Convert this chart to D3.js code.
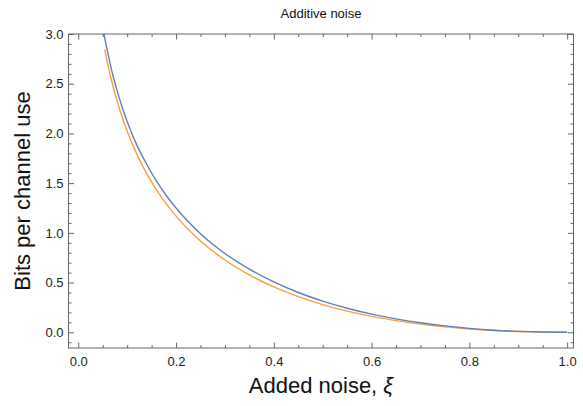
<!DOCTYPE html>
<html>
<head>
<meta charset="utf-8">
<script src="https://cdn.jsdelivr.net/npm/d3@7"></script>
<style>
  body { margin: 0; background: #fff; }
  text { font-family: "Liberation Sans", Arial, sans-serif; }
</style>
</head>
<body>
<div id="chart"></div>
<script>
// values (blue curve starts above the frame and is clipped)
var blueX = [0.05, 0.054, 0.06, 0.07, 0.08, 0.09, 0.1, 0.12, 0.14, 0.16, 0.18, 0.2, 0.25, 0.3, 0.35, 0.4, 0.45, 0.5, 0.55, 0.6, 0.65, 0.7, 0.75, 0.8, 0.85, 0.9, 0.95, 1.0];
var blueY = [3.07, 2.96, 2.82, 2.60, 2.42, 2.26, 2.12, 1.88, 1.69, 1.52, 1.376, 1.25, 0.992, 0.793, 0.635, 0.506, 0.40, 0.314, 0.242, 0.183, 0.135, 0.096, 0.064, 0.039, 0.021, 0.009, 0.0024, 0.0];
var orangeX = [0.054, 0.06, 0.07, 0.08, 0.09, 0.1, 0.12, 0.14, 0.16, 0.18, 0.2, 0.25, 0.3, 0.35, 0.4, 0.45, 0.5, 0.55, 0.6, 0.65, 0.7, 0.75, 0.8, 0.85, 0.9, 0.95, 1.0];
var orangeY = [2.846, 2.703, 2.495, 2.317, 2.161, 2.024, 1.789, 1.596, 1.432, 1.291, 1.168, 0.918, 0.727, 0.577, 0.456, 0.359, 0.279, 0.213, 0.160, 0.117, 0.082, 0.054, 0.033, 0.018, 0.008, 0.002, 0.0];

var xTicks = [0.0, 0.2, 0.4, 0.6, 0.8, 1.0];
var yTicks = [0.0, 0.5, 1.0, 1.5, 2.0, 2.5, 3.0];

var width = 583, height = 406;
var plotLeft = 68.5, plotRight = 573.5, plotTop = 34, plotBottom = 348;

var svg = d3.select("#chart").append("svg")
    .attr("width", width)
    .attr("height", height);

var x = d3.scaleLinear().domain([-0.02, 1.013]).range([plotLeft, plotRight]);
var y = d3.scaleLinear().domain([-0.158, 3.0]).range([plotBottom, plotTop]);

svg.append("clipPath").attr("id", "clip")
  .append("rect")
    .attr("x", plotLeft).attr("y", plotTop)
    .attr("width", plotRight - plotLeft).attr("height", plotBottom - plotTop);

// curves
var line = d3.line()
    .x(function(d) { return x(d[0]); })
    .y(function(d) { return y(d[1]); })
    .curve(d3.curveMonotoneX);

var orange = d3.zip(orangeX, orangeY);
var blue = d3.zip(blueX, blueY);

svg.append("path")
    .datum(orange)
    .attr("clip-path", "url(#clip)")
    .attr("fill", "none")
    .attr("stroke", "#f4a23f")
    .attr("stroke-width", 1.4)
    .attr("d", line);

svg.append("path")
    .datum(blue)
    .attr("clip-path", "url(#clip)")
    .attr("fill", "none")
    .attr("stroke", "#5e81b5")
    .attr("stroke-width", 1.4)
    .attr("d", line);

// frame
var frameColor = "#666";
var xMinor = d3.range(0, 1.0001, 0.05).filter(function(v) { return Math.abs(v * 5 - Math.round(v * 5)) > 1e-6; });
var yMinor = d3.range(-0.1, 3.0001, 0.1).filter(function(v) { return Math.abs(v * 2 - Math.round(v * 2)) > 1e-6; });

function addAxis(axis, transform) {
  var g = svg.append("g").attr("transform", transform).call(axis);
  g.select(".domain").remove();
  g.selectAll(".tick line").attr("stroke", frameColor);
  g.selectAll(".tick text").attr("fill", "#222").style("font-size", "13px");
  return g;
}

// bottom
addAxis(d3.axisTop(x).tickValues(xMinor).tickSize(3).tickFormat(""), "translate(0," + plotBottom + ")");
var xb = addAxis(d3.axisTop(x).tickValues(xTicks).tickSize(5.5).tickFormat(d3.format(".1f")), "translate(0," + plotBottom + ")");
xb.selectAll(".tick text").attr("y", 9).attr("dy", "0.71em");
// top
addAxis(d3.axisBottom(x).tickValues(xMinor).tickSize(3).tickFormat(""), "translate(0," + plotTop + ")");
addAxis(d3.axisBottom(x).tickValues(xTicks).tickSize(5.5).tickFormat(""), "translate(0," + plotTop + ")");
// left
addAxis(d3.axisRight(y).tickValues(yMinor).tickSize(3).tickFormat(""), "translate(" + plotLeft + ",0)");
var yl = addAxis(d3.axisRight(y).tickValues(yTicks).tickSize(5.5).tickFormat(d3.format(".1f")), "translate(" + plotLeft + ",0)");
yl.selectAll(".tick text").attr("x", -5).attr("text-anchor", "end");
// right
addAxis(d3.axisLeft(y).tickValues(yMinor).tickSize(3).tickFormat(""), "translate(" + plotRight + ",0)");
addAxis(d3.axisLeft(y).tickValues(yTicks).tickSize(5.5).tickFormat(""), "translate(" + plotRight + ",0)");

svg.append("rect")
    .attr("x", plotLeft).attr("y", plotTop)
    .attr("width", plotRight - plotLeft).attr("height", plotBottom - plotTop)
    .attr("fill", "none")
    .attr("stroke", frameColor)
    .attr("stroke-width", 1);

// title and labels
svg.append("text")
    .attr("x", (plotLeft + plotRight) / 2).attr("y", 18)
    .attr("text-anchor", "middle")
    .style("font-size", "13px")
    .attr("fill", "#111")
    .text("Additive noise");

var xl = svg.append("text")
    .attr("x", (plotLeft + plotRight) / 2).attr("y", 393)
    .attr("text-anchor", "middle")
    .style("font-size", "22px")
    .attr("fill", "#111");
xl.append("tspan").text("Added noise, ");
xl.append("tspan").style("font-style", "italic").text("ξ");

svg.append("text")
    .attr("transform", "translate(30," + ((plotTop + plotBottom) / 2) + ") rotate(-90)")
    .attr("text-anchor", "middle")
    .style("font-size", "22px")
    .attr("fill", "#111")
    .text("Bits per channel use");
</script>
</body>
</html>
